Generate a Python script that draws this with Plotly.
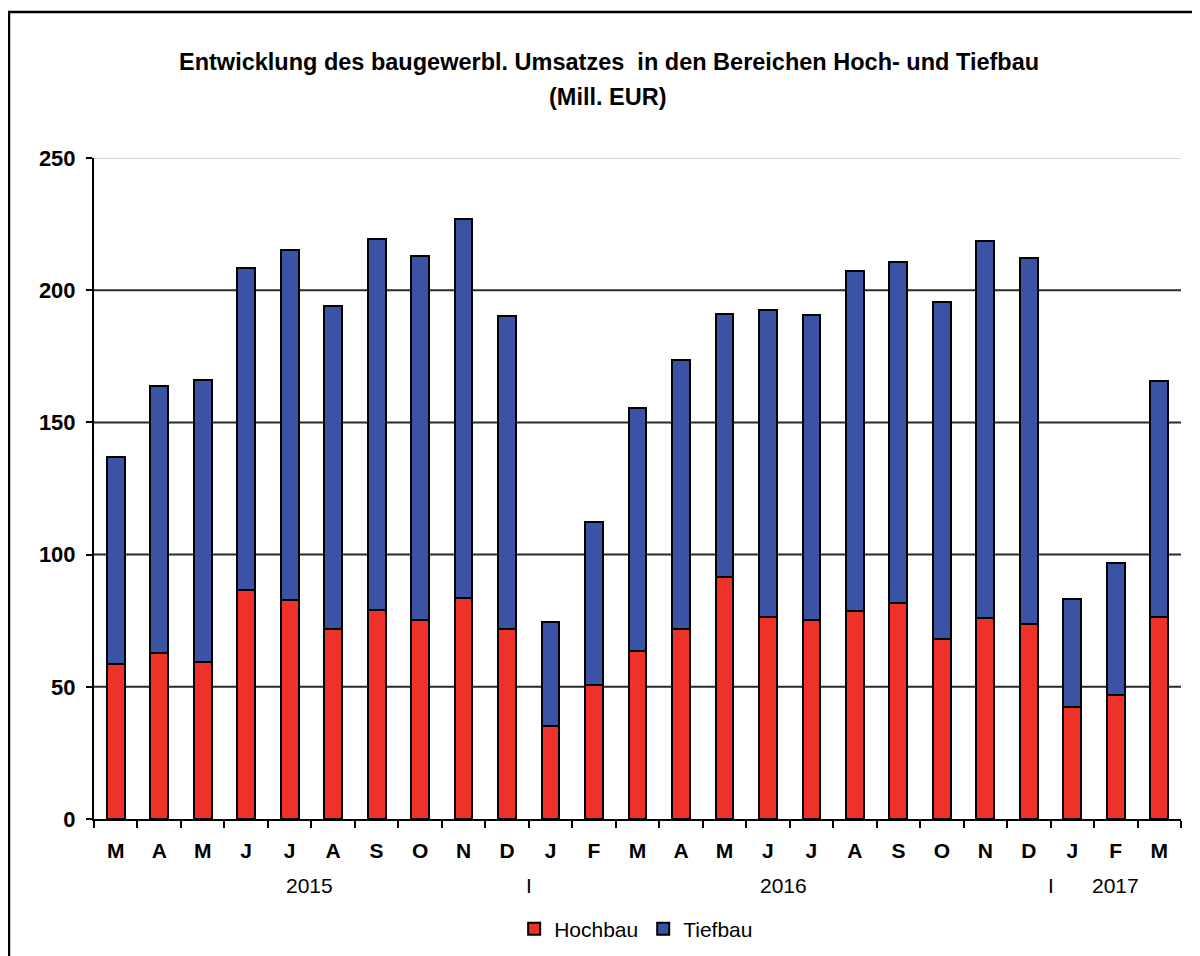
import plotly.graph_objects as go

periods = ["2015-03", "2015-04", "2015-05", "2015-06", "2015-07", "2015-08", "2015-09",
           "2015-10", "2015-11", "2015-12", "2016-01", "2016-02", "2016-03", "2016-04",
           "2016-05", "2016-06", "2016-07", "2016-08", "2016-09", "2016-10", "2016-11",
           "2016-12", "2017-01", "2017-02", "2017-03"]
months = ["M", "A", "M", "J", "J", "A", "S", "O", "N", "D", "J", "F", "M", "A", "M",
          "J", "J", "A", "S", "O", "N", "D", "J", "F", "M"]
hochbau = [58.6, 62.9, 59.4, 86.6, 82.9, 71.7, 79.2, 75.1, 83.5, 72.0, 35.2, 50.7, 63.5,
           71.7, 91.6, 76.4, 75.3, 78.7, 81.6, 68.2, 75.9, 73.6, 42.2, 46.8, 76.5]
tiefbau = [78.4, 100.8, 106.6, 121.7, 132.4, 122.3, 140.1, 137.9, 143.5, 118.1, 39.4, 61.6,
           92.0, 101.8, 99.3, 116.1, 115.2, 128.5, 129.2, 127.3, 142.7, 138.6, 41.1, 49.9, 89.1]
years = ["2015", "2016", "2017"]
year_pos = [4.45, 15.35, 23.0]
separator_pos = [9.5, 21.5]
y_ticks = [0, 50, 100, 150, 200, 250]
grid_dark = [50, 100, 150, 200]

RED = "#EE3129"
BLUE = "#3A53A4"
FONT = "Liberation Sans, Arial, sans-serif"

# page body has an 8px margin: figure occupies screen (8..1200, 8..956)
OFF = 8
PL, PT, PW, PH = 94, 158, 1086.7, 661   # plot area in screen coords


def px(sx):
    return (sx - PL) / PW


def py(sy):
    return (PT + PH - sy) / PH


fig = go.Figure()
fig.add_trace(go.Bar(x=periods, y=hochbau, name="Hochbau",
                     marker=dict(color=RED, line=dict(color="black", width=2))))
fig.add_trace(go.Bar(x=periods, y=tiefbau, name="Tiefbau",
                     marker=dict(color=BLUE, line=dict(color="black", width=2))))

shapes = []
for g in grid_dark:
    shapes.append(dict(type="line", xref="paper", yref="y", x0=0, x1=1, y0=g, y1=g,
                       line=dict(color="#2a2a2a", width=2), layer="below"))
shapes.append(dict(type="line", xref="paper", yref="y", x0=0, x1=1, y0=250, y1=250,
                   line=dict(color="#c8c8c8", width=1.5), layer="below"))
# outer frame
shapes.append(dict(type="rect", xref="paper", yref="paper", x0=px(9), x1=px(1230),
                   y0=py(990), y1=py(12), line=dict(color="black", width=2.5)))

annotations = [
    dict(text="<b>Entwicklung des baugewerbl. Umsatzes  in den Bereichen Hoch- und Tiefbau</b>",
         xref="paper", yref="paper", x=px(609), y=py(62),
         showarrow=False, font=dict(size=23.5, color="black", family=FONT),
         xanchor="center", yanchor="middle"),
    dict(text="<b>(Mill. EUR)</b>",
         xref="paper", yref="paper", x=px(608), y=py(97),
         showarrow=False, font=dict(size=23.5, color="black", family=FONT),
         xanchor="center", yanchor="middle"),
]
for yr, p in zip(years, year_pos):
    annotations.append(dict(text=yr, xref="x", yref="paper", x=p, y=py(885),
                            showarrow=False, font=dict(size=21, color="black", family=FONT),
                            xanchor="center", yanchor="middle"))
for p in separator_pos:
    annotations.append(dict(text="I", xref="x", yref="paper", x=p, y=py(885),
                            showarrow=False, font=dict(size=21, color="black", family=FONT),
                            xanchor="center", yanchor="middle"))

fig.update_layout(
    barmode="stack",
    bargap=0.59,
    width=1200 - OFF, height=956 - OFF,
    margin=dict(l=PL - OFF, r=(1200 - OFF) - (PL - OFF + PW), t=PT - OFF,
                b=(956 - OFF) - (PT - OFF + PH), autoexpand=False),
    paper_bgcolor="white", plot_bgcolor="white",
    font=dict(family=FONT, color="black"),
    showlegend=True,
    legend=dict(orientation="h", x=px(636), y=py(929),
                xanchor="center", yanchor="middle", traceorder="normal",
                font=dict(size=21, family=FONT, color="black"),
                itemwidth=30, tracegroupgap=0, bgcolor="rgba(0,0,0,0)"),
    shapes=shapes,
    annotations=annotations,
    xaxis=dict(type="category", tickvals=periods, ticktext=months, tickson="boundaries",
               ticks="outside", ticklen=7, tickwidth=2, tickcolor="black",
               showline=True, linecolor="black", linewidth=2, showgrid=False,
               tickfont=dict(size=21, family=FONT, color="black", weight="bold"),
               ticklabelstandoff=12, range=[-0.5, 24.5], automargin=False),
    yaxis=dict(range=[0, 250], tickvals=y_ticks, ticks="outside", ticklen=6, tickwidth=2,
               tickcolor="black", showline=True, linecolor="black", linewidth=2,
               showgrid=False, zeroline=False, automargin=False,
               tickfont=dict(size=22, family=FONT, color="black", weight="bold"),
               ticklabelstandoff=6),
)

fig.write_html("out.html")
